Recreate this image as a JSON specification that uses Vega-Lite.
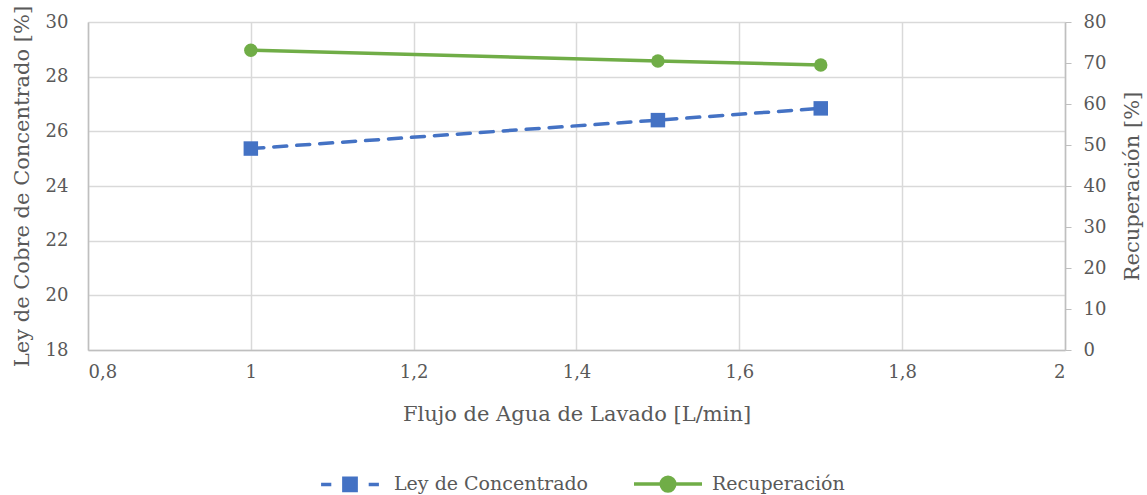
{
  "$schema": "https://vega.github.io/schema/vega-lite/v6.json",
  "autosize": {"type": "none"},
  "padding": {"left": 88, "top": 22, "right": 82, "bottom": 145},
  "width": 977,
  "height": 328,
  "background": "white",
  "config": {
    "view": {"stroke": null},
    "font": "DejaVu Serif",
    "axis": {
      "labelFont": "DejaVu Serif",
      "labelFontSize": 18,
      "labelColor": "#595959",
      "titleFont": "DejaVu Serif",
      "titleFontSize": 21,
      "titleFontWeight": "normal",
      "titleColor": "#595959",
      "domainColor": "#bfbfbf",
      "domainWidth": 1.5,
      "gridColor": "#d9d9d9",
      "gridWidth": 1.5,
      "tickColor": "#bfbfbf"
    },
    "legend": {
      "labelFont": "DejaVu Serif",
      "labelFontSize": 19,
      "labelColor": "#595959",
      "labelLimit": 400
    }
  },
  "data": {
    "values": [
      {"flujo": 1.0, "serie": "Ley de Concentrado", "valor": 25.37},
      {"flujo": 1.5, "serie": "Ley de Concentrado", "valor": 26.41},
      {"flujo": 1.7, "serie": "Ley de Concentrado", "valor": 26.84},
      {"flujo": 1.0, "serie": "Recuperación", "valor": 73.1},
      {"flujo": 1.5, "serie": "Recuperación", "valor": 70.5},
      {"flujo": 1.7, "serie": "Recuperación", "valor": 69.5}
    ]
  },
  "encoding": {
    "x": {
      "field": "flujo",
      "type": "quantitative",
      "scale": {"domain": [0.8, 2], "nice": false, "zero": false},
      "axis": {
        "title": "Flujo de Agua de Lavado [L/min]",
        "values": [0.8, 1, 1.2, 1.4, 1.6, 1.8, 2],
        "labelExpr": "replace(format(datum.value, '~g'), '.', ',')",
        "ticks": false,
        "labelPadding": 13,
        "titlePadding": 22,
        "grid": true
      }
    }
  },
  "layer": [
    {
      "transform": [{"filter": "datum.serie === 'Ley de Concentrado'"}],
      "encoding": {
        "y": {
          "field": "valor",
          "type": "quantitative",
          "scale": {"domain": [18, 30], "nice": false, "zero": false},
          "axis": {
            "title": "Ley de Cobre de Concentrado [%]",
            "orient": "left",
            "values": [18, 20, 22, 24, 26, 28, 30],
            "ticks": false,
            "labelPadding": 20,
            "titlePadding": 13,
            "grid": true
          }
        }
      },
      "layer": [
        {
          "mark": {"type": "line", "color": "#4472C4", "strokeWidth": 3.5, "strokeDash": [13, 10], "strokeCap": "round"}
        },
        {
          "mark": {"type": "point", "shape": "square", "filled": true, "opacity": 1, "size": 210, "color": "#4472C4"}
        },
        {
          "transform": [{"filter": "datum.flujo < 0"}],
          "mark": {"type": "point", "filled": true, "opacity": 1},
          "encoding": {
            "fill": {
              "field": "serie", "type": "nominal",
              "scale": {"domain": ["Ley de Concentrado", "Recuperación"], "range": ["#4472C4", "#70AD47"]},
              "legend": {
                "title": null,
                "orient": "none",
                "legendX": 226,
                "legendY": 426,
                "direction": "horizontal",
                "symbolSize": 4624,
                "symbolStrokeWidth": 3.5,
                "labelOffset": 8,
                "columnPadding": 38
              }
            },
            "stroke": {
              "field": "serie", "type": "nominal",
              "scale": {"domain": ["Ley de Concentrado", "Recuperación"], "range": ["#4472C4", "#70AD47"]}
            },
            "shape": {
              "field": "serie", "type": "nominal",
              "scale": {
                "domain": ["Ley de Concentrado", "Recuperación"],
                "range": [
                  "M-0.85,0H-0.55M-0.18,-0.18H0.18V0.18H-0.18ZM0.55,0H0.85",
                  "M-1,0H1M0.2,0A0.2,0.2,0,1,1,-0.2,0A0.2,0.2,0,1,1,0.2,0Z"
                ]
              }
            }
          }
        }
      ]
    },
    {
      "transform": [{"filter": "datum.serie === 'Recuperación'"}],
      "encoding": {
        "y": {
          "field": "valor",
          "type": "quantitative",
          "scale": {"domain": [0, 80], "nice": false, "zero": true},
          "axis": {
            "title": "Recuperación [%]",
            "orient": "right",
            "values": [0, 10, 20, 30, 40, 50, 60, 70, 80],
            "ticks": true,
            "tickSize": 6,
            "labelPadding": 12,
            "titlePadding": 16,
            "titleAngle": -90,
            "titleBaseline": "top",
            "grid": false
          }
        }
      },
      "layer": [
        {
          "mark": {"type": "line", "color": "#70AD47", "strokeWidth": 3.5}
        },
        {
          "mark": {"type": "point", "shape": "circle", "filled": true, "opacity": 1, "size": 180, "color": "#70AD47"}
        }
      ]
    }
  ],
  "resolve": {"scale": {"y": "independent"}}
}
